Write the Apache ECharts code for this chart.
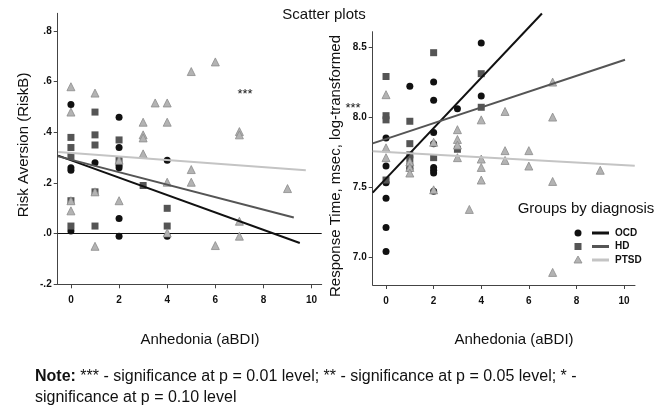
<!DOCTYPE html>
<html>
<head>
<meta charset="utf-8">
<script src="https://cdn.jsdelivr.net/npm/echarts@6/dist/echarts.min.js"></script>
<style>
html,body{margin:0;padding:0;background:#fff;}
#c{width:667px;height:407px;}
</style>
</head>
<body>
<div id="c"></div>
<script>
// ---- tick labels ----
const xTicks = [0, 2, 4, 6, 8, 10];
const riskTicks = [-0.2, 0, 0.2, 0.4, 0.6, 0.8];
const rtTicks = [7.0, 7.5, 8.0, 8.5];

// ---- Left panel: Risk Aversion (RiskB) vs Anhedonia ----
const riskOcdX = [0, 0, 0, 0, 1, 2, 2, 2, 2, 2, 2, 4, 4];
const riskOcdY = [0.51, 0.26, 0.25, 0.01, 0.28, 0.46, 0.34, 0.27, 0.26, 0.06, -0.01, 0.29, -0.01];
const riskHdX = [0, 0, 0, 0, 0, 1, 1, 1, 1, 1, 2, 2, 3, 4, 4];
const riskHdY = [0.38, 0.34, 0.305, 0.13, 0.03, 0.48, 0.39, 0.35, 0.165, 0.03, 0.37, 0.29, 0.19, 0.10, 0.03];
const riskPtsdX = [0, 0, 0, 0, 1, 1, 1, 2, 2, 3, 3, 3, 3, 3.5, 4, 4, 4, 4, 5, 5, 5, 6, 6, 7, 7, 7, 7, 9];
const riskPtsdY = [0.58, 0.48, 0.13, 0.09, 0.555, 0.165, -0.05, 0.29, 0.13, 0.44, 0.39, 0.378, 0.315, 0.516, 0.516, 0.44, 0.203, 0.003, 0.64, 0.253, 0.203, 0.678, -0.047, 0.403, 0.39, 0.049, -0.01, 0.178];
// fit line end points [x, y]
const riskFitOcd = [[-0.53, 0.308], [9.51, -0.037]];
const riskFitHd = [[-0.53, 0.305], [9.26, 0.064]];
const riskFitPtsd = [[-0.53, 0.322], [9.76, 0.25]];

// ---- Right panel: Response Time (log msec) vs Anhedonia ----
const rtOcdX = [0, 0, 0, 0, 0, 0, 1, 1, 2, 2, 2, 2, 2, 2, 2, 2, 3, 4, 4];
const rtOcdY = [7.85, 7.65, 7.53, 7.42, 7.21, 7.04, 8.22, 7.63, 8.25, 8.12, 7.89, 7.81, 7.64, 7.62, 7.60, 7.47, 8.06, 8.53, 8.15];
const rtHdX = [0, 0, 0, 0, 1, 1, 1, 1, 1, 2, 2, 3, 4, 4];
const rtHdY = [8.29, 8.01, 7.98, 7.55, 7.97, 7.81, 7.73, 7.70, 7.65, 8.46, 7.71, 7.77, 8.31, 8.07];
const rtPtsdX = [0, 0, 0, 1, 1, 1, 2, 2, 3, 3, 3, 3, 3.5, 4, 4, 4, 4, 5, 5, 5, 6, 6, 7, 7, 7, 7, 9];
const rtPtsdY = [8.16, 7.78, 7.71, 7.68, 7.64, 7.60, 7.82, 7.48, 7.91, 7.84, 7.80, 7.71, 7.34, 7.98, 7.70, 7.64, 7.55, 8.04, 7.76, 7.69, 7.76, 7.65, 8.25, 8.00, 7.54, 6.89, 7.62];
const rtFitOcd = [[-0.56, 7.46], [6.55, 8.74]];
const rtFitHd = [[-0.56, 7.812], [10.04, 8.41]];
const rtFitPtsd = [[-0.56, 7.756], [10.45, 7.653]];

// ---- styles ----
const FONT = 'Liberation Sans, Arial, sans-serif';
const C_OCD = '#111111', C_HD = '#555555', C_PT = '#b3b3b3', C_PT_B = '#8c8c8c', C_PT_L = '#c4c4c4';
const AX = '#444444';

function pts(xs, ys) { return xs.map((x, i) => [x, ys[i]]); }
function fmtRisk(v) { return v.toFixed(1).replace(/^(-?)0\./, '$1.'); }

function xAxisCfg(grid, min, max) {
  return {
    gridIndex: grid, type: 'value', min: min, max: max,
    splitLine: { show: false },
    axisLine: { onZero: false, lineStyle: { color: AX, width: 1 } },
    axisTick: { customValues: xTicks, length: 4, lineStyle: { color: AX } },
    axisLabel: { customValues: xTicks, margin: 11, fontSize: 10, fontWeight: 'bold', color: '#111', fontFamily: FONT }
  };
}
function yAxisCfg(grid, min, max, ticks, fmt) {
  return {
    gridIndex: grid, type: 'value', min: min, max: max,
    splitLine: { show: false },
    axisLine: { onZero: false, lineStyle: { color: AX, width: 1 } },
    axisTick: { customValues: ticks, length: 4, lineStyle: { color: AX } },
    axisLabel: { customValues: ticks, margin: 6, fontSize: 10, fontWeight: 'bold', color: '#111', fontFamily: FONT, formatter: fmt }
  };
}
function scat(xi, data, symbol, size, color, border, z) {
  return {
    type: 'scatter', xAxisIndex: xi, yAxisIndex: xi, data: data, symbol: symbol, symbolSize: size,
    itemStyle: { color: color, borderColor: border || color, borderWidth: border ? 0.8 : 0, opacity: 1 },
    z: z, silent: true
  };
}
function fit(xi, data, color, extra) {
  return Object.assign({
    type: 'line', xAxisIndex: xi, yAxisIndex: xi, data: data, symbol: 'none',
    lineStyle: { color: color, width: 2 }, z: 8, silent: true
  }, extra || {});
}

const chart = echarts.init(document.getElementById('c'), null, { renderer: 'canvas' });
chart.setOption({
  animation: false,
  backgroundColor: '#ffffff',
  grid: [
    { left: 57.7, top: 13.3, width: 264, height: 271 },
    { left: 372.7, top: 31.7, width: 262.3, height: 253.3 }
  ],
  xAxis: [xAxisCfg(0, -0.55, 10.42), xAxisCfg(1, -0.56, 10.46)],
  yAxis: [
    yAxisCfg(0, -0.2, 0.87, riskTicks, fmtRisk),
    yAxisCfg(1, 6.8, 8.61, rtTicks, v => v.toFixed(1))
  ],
  series: [
    scat(0, pts(riskOcdX, riskOcdY), 'circle', 7, C_OCD, null, 3),
    scat(0, pts(riskHdX, riskHdY), 'rect', 7, C_HD, null, 4),
    scat(0, pts(riskPtsdX, riskPtsdY), 'triangle', 8, C_PT, C_PT_B, 5),
    fit(0, riskFitOcd, C_OCD, {
      markLine: {
        silent: true, symbol: 'none', label: { show: false },
        lineStyle: { color: '#111', width: 1, type: 'solid' },
        data: [{ yAxis: 0 }]
      }
    }),
    fit(0, riskFitHd, C_HD),
    fit(0, riskFitPtsd, C_PT_L),
    scat(1, pts(rtOcdX, rtOcdY), 'circle', 7, C_OCD, null, 3),
    scat(1, pts(rtHdX, rtHdY), 'rect', 7, C_HD, null, 4),
    scat(1, pts(rtPtsdX, rtPtsdY), 'triangle', 8, C_PT, C_PT_B, 5),
    fit(1, rtFitOcd, C_OCD, { clip: false }),
    fit(1, rtFitHd, C_HD),
    fit(1, rtFitPtsd, C_PT_L)
  ],
  graphic: [
    { type: 'text', x: 324, y: 15, style: { text: 'Scatter plots', font: '15px ' + FONT, fill: '#111', align: 'center', verticalAlign: 'middle' } },
    { type: 'text', x: 24, y: 145, rotation: Math.PI / 2, style: { text: 'Risk Aversion (RiskB)', font: '15px ' + FONT, fill: '#111', align: 'center', verticalAlign: 'middle' } },
    { type: 'text', x: 336, y: 166, rotation: Math.PI / 2, style: { text: 'Response Time, msec, log-transformed', font: '15px ' + FONT, fill: '#111', align: 'center', verticalAlign: 'middle' } },
    { type: 'text', x: 200, y: 340, style: { text: 'Anhedonia (aBDI)', font: '15px ' + FONT, fill: '#111', align: 'center', verticalAlign: 'middle' } },
    { type: 'text', x: 514, y: 340, style: { text: 'Anhedonia (aBDI)', font: '15px ' + FONT, fill: '#111', align: 'center', verticalAlign: 'middle' } },
    { type: 'text', x: 245, y: 94, style: { text: '***', font: '13px ' + FONT, fill: '#111', align: 'center', verticalAlign: 'middle' } },
    { type: 'text', x: 353, y: 108, style: { text: '***', font: '13px ' + FONT, fill: '#111', align: 'center', verticalAlign: 'middle' } },
    // legend
    { type: 'text', x: 586, y: 209, style: { text: 'Groups by diagnosis', font: '15px ' + FONT, fill: '#111', align: 'center', verticalAlign: 'middle' } },
    { type: 'circle', shape: { cx: 578, cy: 233, r: 3.5 }, style: { fill: C_OCD } },
    { type: 'line', shape: { x1: 592, y1: 233, x2: 609, y2: 233 }, style: { stroke: C_OCD, lineWidth: 3 } },
    { type: 'text', x: 615, y: 233, style: { text: 'OCD', font: 'bold 10px ' + FONT, fill: '#111', align: 'left', verticalAlign: 'middle' } },
    { type: 'rect', shape: { x: 574.5, y: 243, width: 7, height: 7 }, style: { fill: C_HD } },
    { type: 'line', shape: { x1: 592, y1: 246.5, x2: 609, y2: 246.5 }, style: { stroke: C_HD, lineWidth: 3 } },
    { type: 'text', x: 615, y: 246.5, style: { text: 'HD', font: 'bold 10px ' + FONT, fill: '#111', align: 'left', verticalAlign: 'middle' } },
    { type: 'polygon', shape: { points: [[578, 256], [582, 263], [574, 263]] }, style: { fill: C_PT, stroke: C_PT_B, lineWidth: 0.8 } },
    { type: 'line', shape: { x1: 592, y1: 260, x2: 609, y2: 260 }, style: { stroke: C_PT_L, lineWidth: 3 } },
    { type: 'text', x: 615, y: 260, style: { text: 'PTSD', font: 'bold 10px ' + FONT, fill: '#111', align: 'left', verticalAlign: 'middle' } },
    // note
    { type: 'text', x: 35, y: 377, style: {
        text: '{b|Note:} *** - significance at p = 0.01 level; ** - significance at p = 0.05 level; * -',
        font: '16px ' + FONT, fill: '#111', verticalAlign: 'middle',
        rich: { b: { fontWeight: 'bold', fontSize: 16, fontFamily: FONT, fill: '#111' } }
    } },
    { type: 'text', x: 35, y: 398, style: { text: 'significance at p = 0.10 level', font: '16px ' + FONT, fill: '#111', verticalAlign: 'middle' } }
  ]
});
</script>
</body>
</html>
